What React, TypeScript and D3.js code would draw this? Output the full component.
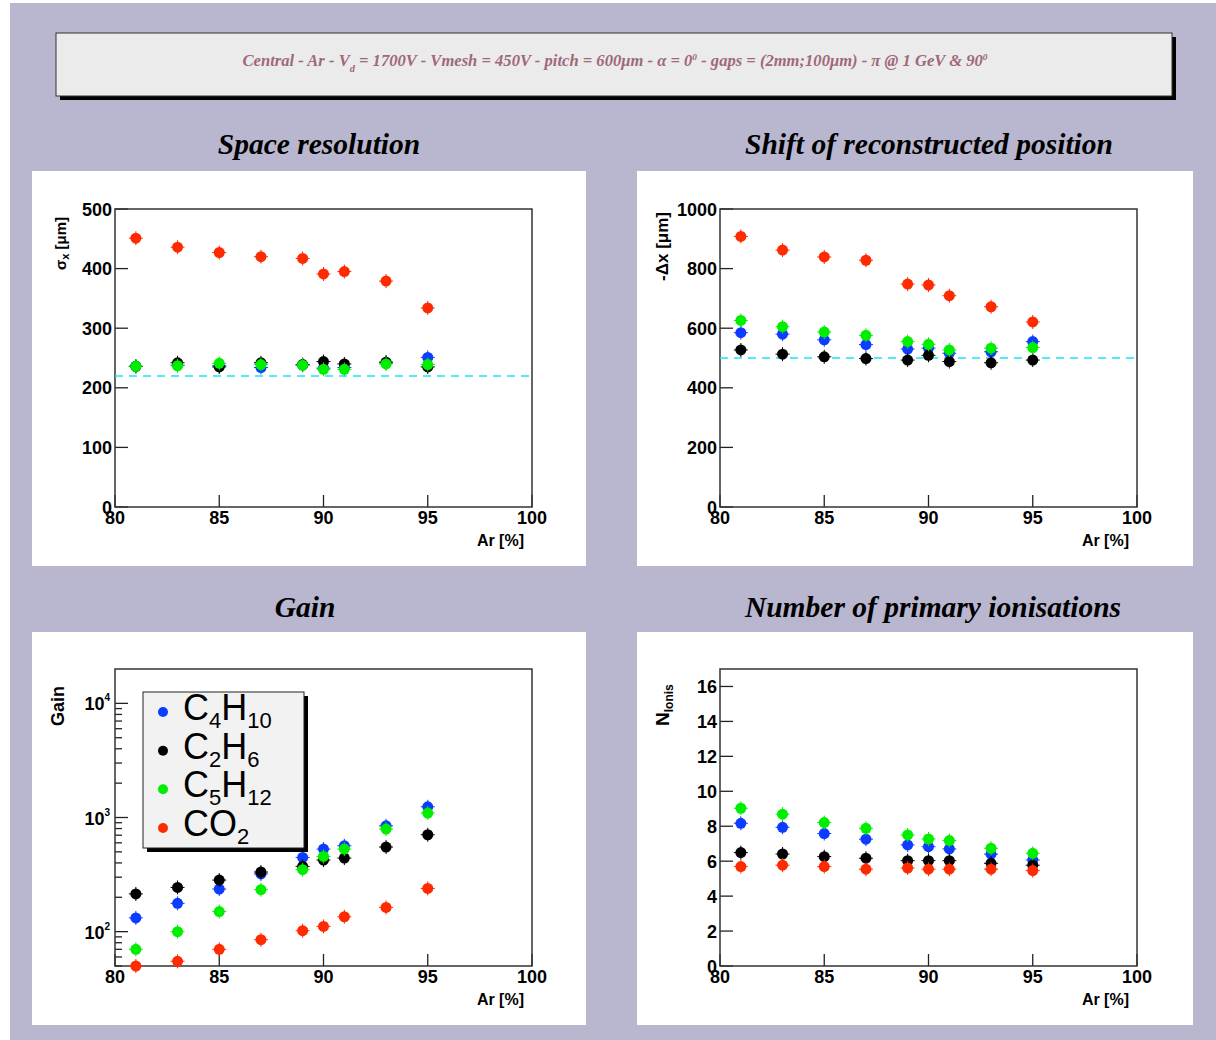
import React from "react";
import * as d3 from "d3";

// Ar fraction of the mixture (%)
const arPct = [81, 83, 85, 87, 89, 90, 91, 93, 95];

// quenchers, in drawing order
const gasNames = ["C4H10", "C2H6", "C5H12", "CO2"];
const gasColors = ["#0b3cff", "#000000", "#00ee00", "#ff2b00"];

// space resolution sigma_x [um]
const resC4H10 = [236, 238, 237, 234, 238, 233, 234, 242, 251];
const resC2H6 = [236, 242, 235, 242, 239, 244, 240, 243, 235];
const resC5H12 = [236, 237, 241, 239, 238, 231, 231, 240, 239];
const resCO2 = [451, 436, 427, 420, 417, 391, 395, 379, 334];
const resReference = 220;

// shift of reconstructed position -dx [um]
const shiftC4H10 = [585, 580, 561, 545, 530, 533, 516, 521, 555];
const shiftC2H6 = [527, 513, 504, 498, 493, 509, 488, 484, 493];
const shiftC5H12 = [626, 605, 587, 576, 555, 546, 527, 533, 535];
const shiftCO2 = [908, 862, 839, 828, 748, 745, 709, 672, 621];
const shiftReference = 500;

// gain
const gainC4H10 = [132, 177, 236, 320, 447, 529, 565, 846, 1241];
const gainC2H6 = [214, 244, 283, 333, 373, 424, 441, 551, 706];
const gainC5H12 = [70, 100, 150, 233, 349, 456, 529, 791, 1093];
const gainCO2 = [50, 55, 70, 85, 102, 111, 135, 163, 239];

// number of primary ionisations
const ionC4H10 = [8.17, 7.94, 7.58, 7.26, 6.93, 6.83, 6.7, 6.4, 6.07];
const ionC2H6 = [6.49, 6.41, 6.26, 6.17, 6.03, 6.03, 6.03, 5.88, 5.77];
const ionC5H12 = [9.03, 8.69, 8.21, 7.88, 7.5, 7.27, 7.18, 6.74, 6.45];
const ionCO2 = [5.69, 5.77, 5.69, 5.54, 5.61, 5.54, 5.54, 5.54, 5.46];

const xDomain = [80, 100];
const sans = "'Liberation Sans', Arial, Helvetica, sans-serif";
const serif = "'Liberation Serif', 'Times New Roman', serif";

const panels = [
  {
    title: "Space resolution", titleX: 319, titleY: 154,
    bg: [32, 171, 554, 395], frame: [115, 209, 532, 507],
    yDomain: [0, 500], yTicks: 5, log: false,
    series: [resC4H10, resC2H6, resC5H12, resCO2], ref: resReference,
    yTitle: (
      <text transform="translate(66,217) rotate(-90)" textAnchor="end" fontFamily={sans} fontWeight="bold" fontSize={15}>
        σ<tspan fontSize={11} dy={3}>x</tspan><tspan dy={-3}> [μm]</tspan>
      </text>
    ),
  },
  {
    title: "Shift of reconstructed position", titleX: 929, titleY: 154,
    bg: [637, 171, 556, 395], frame: [720, 209, 1137, 507],
    yDomain: [0, 1000], yTicks: 5, log: false,
    series: [shiftC4H10, shiftC2H6, shiftC5H12, shiftCO2], ref: shiftReference,
    yTitle: (
      <text transform="translate(668,212) rotate(-90)" textAnchor="end" fontFamily={sans} fontWeight="bold" fontSize={17}>
        -Δx [μm]
      </text>
    ),
  },
  {
    title: "Gain", titleX: 305, titleY: 617,
    bg: [32, 632, 554, 393], frame: [115, 669, 532, 966],
    yDomain: [50, 20000], yTicks: 0, log: true,
    series: [gainC4H10, gainC2H6, gainC5H12, gainCO2], ref: null,
    yTitle: (
      <text transform="translate(64,686) rotate(-90)" textAnchor="end" fontFamily={sans} fontWeight="bold" fontSize={18}>
        Gain
      </text>
    ),
  },
  {
    title: "Number of primary ionisations", titleX: 933, titleY: 617,
    bg: [637, 632, 556, 393], frame: [720, 669, 1137, 966],
    yDomain: [0, 17], yTicks: 8, log: false,
    series: [ionC4H10, ionC2H6, ionC5H12, ionCO2], ref: null,
    yTitle: (
      <text transform="translate(669,726) rotate(-90)" textAnchor="start" fontFamily={sans} fontWeight="bold" fontSize={19}>
        N<tspan fontSize={12} dy={4}>Ionis</tspan>
      </text>
    ),
  },
];

function Marker({ cx, cy, color }) {
  return (
    <g>
      <line x1={cx - 7} x2={cx + 7} y1={cy} y2={cy} stroke={color} strokeWidth={1} />
      <line x1={cx} x2={cx} y1={cy - 7} y2={cy + 7} stroke={color} strokeWidth={1} />
      <circle cx={cx} cy={cy} r={5.5} fill={color} />
    </g>
  );
}

function Panel({ p }) {
  const [fx0, fy0, fx1, fy1] = p.frame;
  const x = d3.scaleLinear().domain(xDomain).range([fx0, fx1]);
  const y = p.log
    ? d3.scaleLog().domain(p.yDomain).range([fy1, fy0])
    : d3.scaleLinear().domain(p.yDomain).range([fy1, fy0]);
  const xTicks = x.ticks(4);
  const yTicks = p.log ? y.ticks() : y.ticks(p.yTicks);

  return (
    <g>
      <text x={p.titleX} y={p.titleY} textAnchor="middle" fontFamily={serif} fontStyle="italic" fontWeight="bold" fontSize={29.5}>
        {p.title}
      </text>
      <rect x={p.bg[0]} y={p.bg[1]} width={p.bg[2]} height={p.bg[3]} fill="#ffffff" />

      {/* y axis ticks and labels */}
      {yTicks.map((t, i) => {
        const major = !p.log || Math.abs(Math.log10(t) - Math.round(Math.log10(t))) < 1e-9;
        const len = major ? 13 : 7;
        if (p.log && t >= p.yDomain[1]) return null;
        return (
          <g key={"y" + i}>
            <line x1={fx0} x2={fx0 + len} y1={y(t)} y2={y(t)} stroke="#222" strokeWidth={1.3} />
            {major && !p.log && (
              <text x={fx0 - 3} y={y(t) + 6.5} textAnchor="end" fontFamily={sans} fontWeight="bold" fontSize={18}>
                {t}
              </text>
            )}
            {major && p.log && (
              <text x={fx0 - 5} y={y(t) + 7} textAnchor="end" fontFamily={sans} fontWeight="bold" fontSize={18}>
                10<tspan fontSize={10} dy={-9}>{Math.round(Math.log10(t))}</tspan>
              </text>
            )}
          </g>
        );
      })}

      {/* x axis ticks and labels */}
      {xTicks.map((t, i) => (
        <g key={"x" + i}>
          <line x1={x(t)} x2={x(t)} y1={fy1} y2={fy1 - 12} stroke="#222" strokeWidth={1.3} />
          <text x={x(t)} y={fy1 + 17} textAnchor="middle" fontFamily={sans} fontWeight="bold" fontSize={18}>
            {t}
          </text>
        </g>
      ))}
      <text x={fx1 - 8} y={fy1 + 39} textAnchor="end" fontFamily={sans} fontWeight="bold" fontSize={16}>
        Ar [%]
      </text>
      {p.yTitle}

      <rect x={fx0} y={fy0} width={fx1 - fx0} height={fy1 - fy0} fill="none" stroke="#333" strokeWidth={1.5} />

      {p.ref !== null && (
        <line x1={fx0} x2={fx1} y1={y(p.ref)} y2={y(p.ref)} stroke="#19e6f0" strokeWidth={1.5} strokeDasharray="8,6" />
      )}

      {p.series.map((vals, si) => (
        <g key={"s" + si}>
          {vals.map((v, i) => (
            <Marker key={i} cx={x(arPct[i])} cy={y(v)} color={gasColors[si]} />
          ))}
        </g>
      ))}
    </g>
  );
}

function Formula({ name, x, y }) {
  // split "C4H10" into letters and subscript digits
  const parts = name.match(/[A-Z]+|[0-9]+/g) || [];
  let sub = false;
  return (
    <text x={x} y={y} fontFamily={sans} fontSize={36} fill="#000">
      {parts.map((s, i) => {
        const isNum = /[0-9]/.test(s);
        const dy = isNum && !sub ? 8 : !isNum && sub ? -8 : 0;
        sub = isNum;
        return (
          <tspan key={i} dy={dy} fontSize={isNum ? 22 : 36}>
            {s}
          </tspan>
        );
      })}
    </text>
  );
}

function Legend() {
  const bx = 143, by = 692, bw = 161, bh = 156;
  const rowY = d3.scaleLinear().domain([0, 3]).range([720, 836]);
  return (
    <g>
      <rect x={bx + 4} y={by + 4} width={bw} height={bh} fill="#000" />
      <rect x={bx} y={by} width={bw} height={bh} fill="#f2f2f2" stroke="#222" strokeWidth={1} />
      {gasNames.map((g, i) => (
        <g key={g}>
          <circle cx={163} cy={rowY(i) - 8} r={5} fill={gasColors[i]} />
          <Formula name={g} x={183} y={rowY(i)} />
        </g>
      ))}
    </g>
  );
}

export default function App() {
  return (
    <svg
      width={1216}
      height={1040}
      style={{ position: "absolute", left: 0, top: 0, display: "block" }}
    >
      <rect x={0} y={0} width={1216} height={1040} fill="#ffffff" />
      <rect x={10} y={3} width={1206} height={1037} fill="#b9b6d0" />

      {/* header box */}
      <rect x={60} y={37} width={1116} height={63} fill="#000" />
      <rect x={56} y={33} width={1116} height={63} fill="#ebebeb" stroke="#333" strokeWidth={1} />
      <text
        x={615}
        y={66}
        textAnchor="middle"
        fontFamily={serif}
        fontStyle="italic"
        fontWeight="bold"
        fontSize={16}
        fill="#a0687c"
        textLength={745}
        lengthAdjust="spacingAndGlyphs"
      >
        Central - Ar - V<tspan fontSize={10} dy={6}>d</tspan>
        <tspan dy={-6}> = 1700V - Vmesh = 450V - pitch = 600μm - α = 0</tspan>
        <tspan fontSize={9} dy={-6}>0</tspan>
        <tspan dy={6}>{" - gaps = (2mm;100μm) - π @ 1 GeV & 90"}</tspan>
        <tspan fontSize={9} dy={-6}>0</tspan>
      </text>

      {panels.map((p, i) => (
        <Panel key={i} p={p} />
      ))}
      <Legend />
    </svg>
  );
}
